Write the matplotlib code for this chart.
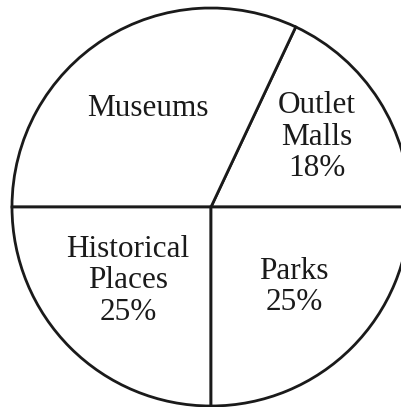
import numpy as np
import matplotlib.pyplot as plt

categories = ["Outlet Malls", "Museums", "Historical Places", "Parks"]
shares = [18, 32, 25, 25]
labels = ["Outlet\nMalls\n18%", "Museums", "Historical\nPlaces\n25%", "Parks\n25%"]
label_pos = [(317, 270), (148, 299), (128, 126), (294, 120)]

plt.rcParams['font.family'] = ['Liberation Serif', 'DejaVu Serif']

fig = plt.figure(figsize=(4.02, 4.07), dpi=100)
ax = fig.add_axes([0, 0, 1, 1])
ax.pie(shares, startangle=0, counterclock=True, center=(211, 200), radius=199,
       colors=['white'] * len(shares),
       wedgeprops={'edgecolor': '#1a1a1a', 'linewidth': 2.0})
ax.set_xlim(0, 402)
ax.set_ylim(0, 407)
ax.set_aspect('equal')
ax.axis('off')

for txt, (x, y) in zip(labels, label_pos):
    ax.text(x, y, txt, ha='center', va='center', fontsize=22.5, linespacing=1.1,
            color='#1a1a1a')

fig.savefig("out.png", dpi=100)
